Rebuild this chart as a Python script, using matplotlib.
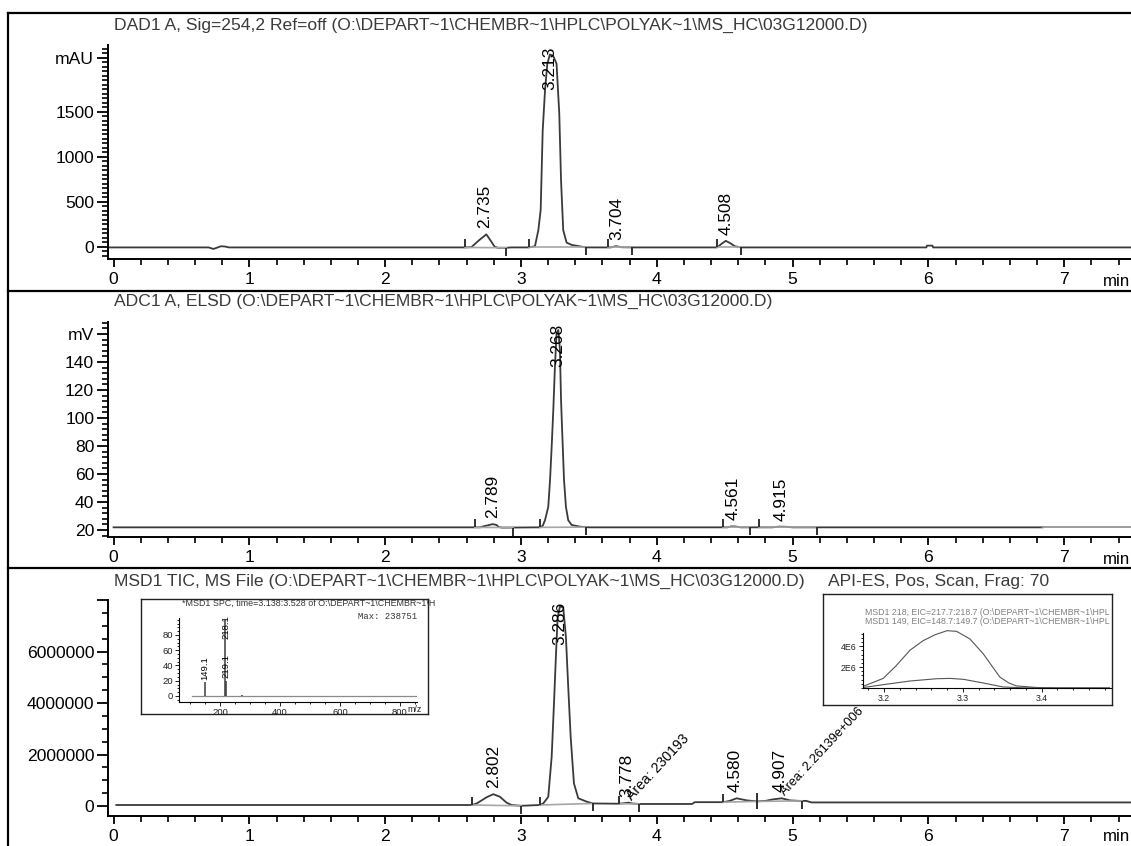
import numpy as np
import matplotlib
matplotlib.use('Agg')
import matplotlib.pyplot as plt
from matplotlib.ticker import MultipleLocator
from matplotlib.lines import Line2D

plt.rcParams['font.family'] = ['Liberation Sans', 'DejaVu Sans']

# ---- data ----
dad_title = "DAD1 A, Sig=254,2 Ref=off (O:\\DEPART~1\\CHEMBR~1\\HPLC\\POLYAK~1\\MS_HC\\03G12000.D)"
dad_t = [-0.04, 0.70, 0.735, 0.76, 0.79, 0.82, 0.85, 2.59, 2.635, 2.69, 2.745, 2.78, 2.806, 2.83,
         2.89, 2.93, 3.059, 3.103, 3.128, 3.145, 3.160, 3.177, 3.194, 3.213, 3.237, 3.262, 3.282,
         3.295, 3.311, 3.336, 3.373, 3.48, 3.66, 3.70, 3.74, 3.82, 4.445, 4.475, 4.508, 4.54,
         4.575, 4.62, 5.985, 5.99, 6.03, 6.035, 7.5]
dad_v = [-8, -8, -25, -12, 5, 2, -8, -8, -5, 70, 137, 60, 0, -12,
         -12, -8, -8, 5, 185, 407, 1293, 1737, 2033, 2136, 2120, 2033, 1479,
         739, 185, 45, 20, -8, -8, 6, -6, -8, -8, 30, 65, 40,
         5, -8, -8, 12, 12, -8, -8]
dad_peaks = ["2.735", "3.213", "3.704", "4.508"]
dad_start = [2.588, 3.059, 3.64, 4.445]
dad_end = [2.893, 3.48, 3.82, 4.62]

elsd_title = "ADC1 A, ELSD (O:\\DEPART~1\\CHEMBR~1\\HPLC\\POLYAK~1\\MS_HC\\03G12000.D)"
elsd_t = [0.0, 2.70, 2.73, 2.76, 2.79, 2.82, 2.835, 2.86, 3.14, 3.16, 3.177, 3.201, 3.214, 3.226,
          3.238, 3.250, 3.262, 3.275, 3.287, 3.295, 3.304, 3.317, 3.331, 3.348, 3.373, 3.434,
          3.50, 4.52, 4.55, 4.58, 4.62, 4.85, 4.90, 4.95, 5.00, 6.84, 7.5]
elsd_v = [21.9, 21.9, 22.8, 23.4, 24.2, 23.6, 22.2, 21.7, 21.9, 23.0, 27, 36.6, 55.7, 79.5,
          105.7, 136.6, 160.5, 162.9, 148.6, 112.9, 89, 55.7, 36.6, 27, 23.6, 22.4,
          21.9, 21.9, 22.6, 22.5, 21.9, 21.9, 22.4, 22.3, 21.9, 21.9, 21.9]
elsd_peaks = ["2.789", "3.268", "4.561", "4.915"]
elsd_start = [2.66, 3.14, 4.49, 4.75]
elsd_end = [2.943, 3.48, 4.69, 5.18]
elsd_stop = 6.84   # end of integrated region

tic_title = "MSD1 TIC, MS File (O:\\DEPART~1\\CHEMBR~1\\HPLC\\POLYAK~1\\MS_HC\\03G12000.D)"
tic_mode = "API-ES, Pos, Scan, Frag: 70"
tic_t = [0.02, 2.64, 2.674, 2.747, 2.796, 2.845, 2.894, 2.931, 3.0, 3.14, 3.164, 3.201, 3.226,
         3.243, 3.258, 3.270, 3.287, 3.311, 3.331, 3.348, 3.366, 3.390, 3.422, 3.484, 3.53,
         3.72, 3.76, 3.79, 3.82, 3.87, 4.26, 4.28, 4.49, 4.537, 4.588, 4.662, 4.74, 4.80,
         4.858, 4.92, 4.98, 5.05, 5.10, 5.14, 7.5]
tic_v = [40000, 40000, 100000, 340000, 460000, 360000, 130000, 40000, 10000, 40000, 100000,
         360000, 1910000, 3980000, 5910000, 7330000, 7740000, 7720000, 6550000, 4620000,
         2680000, 880000, 300000, 170000, 100000, 90000, 110000, 130000, 100000, 80000,
         80000, 150000, 150000, 200000, 300000, 220000, 180000, 200000, 260000, 300000,
         220000, 200000, 200000, 140000, 140000]
tic_peaks = ["2.802", "3.286", "3.778", "4.580", "4.907"]
tic_start = [2.64, 3.14, 3.72, 4.49, 4.74]
tic_end = [3.0, 3.53, 3.87, 4.74, 5.07]
area_peaks = ["3.778", "4.907"]
area_text = ["Area: 230193", "Area: 2.26139e+006"]

# MS spectrum inset (titles as far as they show inside the box)
spc_title = "*MSD1 SPC, time=3.138:3.528 of O:\\DEPART~1\\CHEMBR~1\\H"
spc_max = "Max: 238751"
spc_range = [105, 853]
spc_mz = [149.1, 218.1, 219.1, 272.0]
spc_int = [18, 100, 20, 1.5]
spc_labels = ["149.1", "218.1", "219.1", ""]

# EIC inset
eic_names = ["MSD1 218, EIC=217.7:218.7 (O:\\DEPART~1\\CHEMBR~1\\HPL",
             "MSD1 149, EIC=148.7:149.7 (O:\\DEPART~1\\CHEMBR~1\\HPL"]
eic218_t = [3.175, 3.199, 3.215, 3.233, 3.25, 3.265, 3.280, 3.292, 3.309, 3.326, 3.337, 3.347,
            3.358, 3.368, 3.393, 3.42, 3.486]
eic218_v = [0.2e6, 0.92e6, 2.1e6, 3.62e6, 4.55e6, 5.11e6, 5.49e6, 5.43e6, 4.70e6, 3.27e6,
            2.1e6, 1.05e6, 0.5e6, 0.2e6, 0.05e6, 0.0, 0.0]
eic149_t = [3.174, 3.202, 3.233, 3.267, 3.284, 3.301, 3.326, 3.351, 3.376, 3.486]
eic149_v = [0.05e6, 0.35e6, 0.67e6, 0.89e6, 0.92e6, 0.83e6, 0.48e6, 0.1e6, 0.02e6, 0.0]

# ---- drawing ----
W, H = 1131, 846
fig = plt.figure(figsize=(W / 100, H / 100), dpi=100)
PT = 0.72  # points per pixel

TRACE = '#3a3a3a'
BASE = '#a6a6a6'
TXT = '#3a3a3a'
FS = 12.6


def frac(l, t, r, b):
    return [l / W, 1 - b / H, (r - l) / W, (b - t) / H]


def main_axes(rect, ylim, major, labels, minor):
    ax = fig.add_axes(frac(*rect))
    ax.patch.set_alpha(0)
    ax.set_xlim(-0.041, 7.492)
    ax.set_ylim(*ylim)
    ax.spines[['top', 'right']].set_visible(False)
    ax.spines[['left', 'bottom']].set_linewidth(1.4)
    ax.xaxis.set_major_locator(MultipleLocator(1))
    ax.xaxis.set_minor_locator(MultipleLocator(0.2))
    ax.set_yticks(major, labels)
    ax.yaxis.set_minor_locator(MultipleLocator(minor))
    ax.tick_params(labelsize=FS, colors='black', width=1.3)
    ax.tick_params(axis='x', which='major', length=8 * PT, pad=3.5)
    ax.tick_params(axis='x', which='minor', length=6 * PT, width=1.2)
    ax.tick_params(axis='y', which='major', length=11 * PT, pad=2)
    ax.tick_params(axis='y', which='minor', length=6 * PT, width=1.2)
    return ax


def trace(ax, t, v, names, starts, ends, stop=None):
    t = np.array(t)
    v = np.array(v, dtype=float)
    if stop is None:
        ax.plot(t, v, color=TRACE, lw=1.3)
    else:
        m = t <= stop
        ax.plot(t[m], v[m], color=TRACE, lw=1.3)
        m = t >= stop
        ax.plot(t[m], v[m], color='#8c8c8c', lw=1.2)
    ys = np.interp(starts, t, v)
    ye = np.interp(ends, t, v)
    for s, e, a, b in zip(starts, ends, ys, ye):
        ax.plot([s, e], [a, b], color=BASE, lw=1.2)
    ax.plot(starts, ys, ls='none', marker=2, ms=8 * PT, mew=1.3, color='#202020')
    ax.plot(ends, ye, ls='none', marker=3, ms=8 * PT, mew=1.3, color='#202020')

    y0, y1 = ax.get_ylim()
    ppu = ax.get_position().height * H / (y1 - y0)
    apexes = []
    for name, s, e in zip(names, starts, ends):
        sel = (t >= s) & (t <= e)
        apex = v[sel].max()
        apexes.append(apex)
        yb = apex + 6 / ppu
        if yb + 45 / ppu > y1 - 2 / ppu:
            ax.text(float(name), y1 - 2 / ppu, name, rotation=90, ha='center', va='top',
                    fontsize=12.4, clip_on=False)
        else:
            ax.text(float(name), yb, name, rotation=90, ha='center', va='bottom',
                    fontsize=12.4, clip_on=False)
    return dict(zip(names, apexes))


# panel 1: DAD
ax1 = main_axes((108, 45, 1131, 259), (-136.7, 2241),
                [0, 500, 1000, 1500, 2100], ['0', '500', '1000', '1500', 'mAU'], 50)
trace(ax1, dad_t, dad_v, dad_peaks, dad_start, dad_end)

# panel 2: ELSD
ax2 = main_axes((108, 322, 1131, 537), (15.0, 168.6),
                [20, 40, 60, 80, 100, 120, 140, 160],
                ['20', '40', '60', '80', '100', '120', '140', 'mV'], 4)
trace(ax2, elsd_t, elsd_v, elsd_peaks, elsd_start, elsd_end, stop=elsd_stop)

# panel 3: TIC
ax3 = main_axes((108, 600, 1131, 816), (-387000, 8.0e6),
                [0, 2e6, 4e6, 6e6, 8e6], ['0', '2000000', '4000000', '6000000', ''], 500000)
tic_apex = trace(ax3, tic_t, tic_v, tic_peaks, tic_start, tic_end)
for name, txt, fs in zip(area_peaks, area_text, (10.2, 9.2)):
    ax3.annotate(txt, xy=(float(name), tic_apex[name]), xytext=(5 * PT, 2 * PT),
                 textcoords='offset points', rotation=47, rotation_mode='anchor',
                 ha='left', va='baseline', fontsize=fs, annotation_clip=False)

# titles and "min" labels
for y, txt in [(25, dad_title), (301.7, elsd_title), (581.7, tic_title)]:
    fig.text(114 / W, 1 - y / H, txt, ha='left', va='center', fontsize=FS, color=TXT)
fig.text(828 / W, 1 - 581.7 / H, tic_mode, ha='left', va='center', fontsize=FS, color=TXT)
for y in (281.7, 559, 836.7):
    fig.text(1103 / W, 1 - y / H, 'min', ha='left', va='center', fontsize=12.2)

# outer frame
for xs, ys in [((8, 8), (13, 846)), ((8, 1131), (13, 13)),
               ((8, 1131), (291, 291)), ((8, 1131), (568, 568))]:
    fig.add_artist(Line2D([x / W for x in xs], [1 - y / H for y in ys],
                          color='black', lw=1.6))


def inset_box(rect):
    b = fig.add_axes(frac(*rect))
    b.set_xticks([])
    b.set_yticks([])
    for s in b.spines.values():
        s.set_linewidth(1.0)
        s.set_color('#202020')
    return b


def inset_inner(rect, size):
    a = fig.add_axes(frac(*rect))
    a.patch.set_alpha(0)
    a.spines[['top', 'right']].set_visible(False)
    a.spines[['left', 'bottom']].set_linewidth(0.8)
    a.tick_params(labelsize=size, width=0.7, colors='#202020', pad=1.5)
    a.tick_params(which='major', length=4 * PT)
    a.tick_params(which='minor', length=2.5 * PT, width=0.6)
    return a


# inset 1: mass spectrum
b1 = inset_box((141, 599, 428, 714))
b1.text(0.142, 0.962, spc_title, transform=b1.transAxes, ha='left', va='center',
        fontsize=6.4, color='#333333')
b1.text(0.756, 0.852, spc_max, transform=b1.transAxes, ha='left', va='center',
        fontsize=6.4, family=['Liberation Mono', 'DejaVu Sans Mono'], color='#333333')
s1 = inset_inner((179, 618, 417, 701.7), 6.8)
s1.set_xlim(63, 857)
s1.set_ylim(-7.5, 102.3)
s1.set_yticks([0, 20, 40, 60, 80])
s1.yaxis.set_minor_locator(MultipleLocator(5))
s1.set_xticks([200, 400, 600, 800])
s1.xaxis.set_minor_locator(MultipleLocator(50))
s1.plot(spc_range, [0, 0], color='#8a8a8a', lw=0.9)
s1.vlines(spc_mz, 0, spc_int, color='#3a3a3a', lw=1.1)
for mz, it, lab in zip(spc_mz, spc_int, spc_labels):
    if lab:
        y = min(it + 3, 102.3 - 28)
        s1.text(mz, y, lab, rotation=90, ha='center', va='bottom', fontsize=6.8, clip_on=False)
fig.text(415 / W, 1 - 709 / H, 'm/z', ha='center', va='center', fontsize=6.4, color='#202020')

# inset 2: extracted ion chromatograms
b2 = inset_box((823, 594, 1112, 705))
for y, txt in zip((0.832, 0.75), eic_names):
    b2.text(0.145, y, txt, transform=b2.transAxes, ha='left', va='center',
            fontsize=6.3, color='#808080')
s2 = inset_inner((862.7, 633, 1111, 688), 6.3)
s2.set_xlim(3.173, 3.488)
s2.set_ylim(0, 5.27e6)
s2.set_yticks([2e6, 4e6], ['2E6', '4E6'])
s2.yaxis.set_minor_locator(MultipleLocator(0.4e6))
s2.set_xticks([3.2, 3.3, 3.4], ['3.2', '3.3', '3.4'])
s2.xaxis.set_minor_locator(MultipleLocator(0.02))
s2.plot(eic218_t, eic218_v, color='#555555', lw=0.8, clip_on=False)
s2.plot(eic149_t, eic149_v, color='#555555', lw=0.8, clip_on=False)

fig.savefig('out.png', dpi=100)
